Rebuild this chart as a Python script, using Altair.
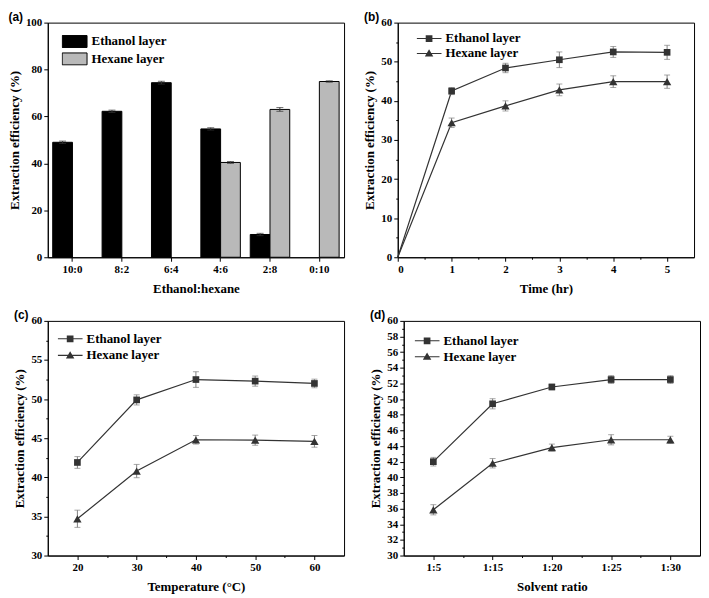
import json
import altair as alt
import pandas as pd

SERIF = "Liberation Serif"
SANS = "Liberation Sans"
SERIES = ["Ethanol layer", "Hexane layer"]

# (a) ethanol:hexane ratio
ratio_labels = ["10:0", "8:2", "6:4", "4:6", "2:8", "0:10"]
a_ethanol = [49.0, 62.2, 74.4, 54.7, 9.7, 0.0]
a_ethanol_err = [0.5, 0.5, 0.6, 0.5, 0.5, 0.0]
a_hexane = [0.0, 0.0, 0.0, 40.4, 63.0, 74.9]
a_hexane_err = [0.0, 0.0, 0.0, 0.4, 0.8, 0.3]

# (b) time
time_hr = [0, 1, 2, 3, 4, 5]
b_ethanol = [0.0, 42.5, 48.4, 50.5, 52.5, 52.4]
b_ethanol_err = [0.0, 0.9, 1.2, 2.0, 1.4, 1.8]
b_hexane = [0.0, 34.4, 38.7, 42.8, 44.9, 44.9]
b_hexane_err = [0.0, 1.2, 1.3, 1.5, 1.5, 1.7]

# (c) temperature
temperature = [20, 30, 40, 50, 60]
c_ethanol = [41.9, 49.9, 52.5, 52.3, 52.0]
c_ethanol_err = [0.75, 0.65, 1.0, 0.65, 0.55]
c_hexane = [34.7, 40.8, 44.8, 44.75, 44.6]
c_hexane_err = [1.1, 0.85, 0.55, 0.65, 0.75]

# (d) solvent ratio
solvent_ratio = ["1:5", "1:15", "1:20", "1:25", "1:30"]
d_ethanol = [42.0, 49.4, 51.55, 52.5, 52.5]
d_ethanol_err = [0.55, 0.65, 0.35, 0.5, 0.5]
d_hexane = [35.85, 41.8, 43.8, 44.8, 44.8]
d_hexane_err = [0.65, 0.6, 0.45, 0.65, 0.45]

W, H = 298, 236
LINE_COLOR = "#333333"
ERR_COLOR = "#808080"
YTITLE = "Extraction efficiency (%)"

SQ_KEY = "M-1,-0.045H1V0.045H-1Z M-0.27,-0.27H0.27V0.27H-0.27Z"
TRI_KEY = "M-1,-0.045H1V0.045H-1Z M0,-0.33L0.34,0.25H-0.34Z"
BAR_KEY = "M-1,-0.48H1V0.48H-1Z"


def long_df(xs, eth, eth_err, hx, hx_err):
    rows = []
    for name, vals, errs in ((SERIES[0], eth, eth_err), (SERIES[1], hx, hx_err)):
        for x, v, e in zip(xs, vals, errs):
            rows.append({"x": x, "series": name, "value": v,
                         "lo": v - e, "hi": v + e, "err": e})
    return pd.DataFrame(rows)


def panel_title(text):
    return alt.TitleParams(text=text, anchor="start", frame="bounds", font=SANS,
                           fontSize=12, fontWeight="bold", color="black",
                           offset=0, dy=7)


def num_axis(title, values, major, labels=None):
    is_major = f"(abs(datum.value % {major}) < 1e-6)"
    if labels is None:
        lab = f"{is_major} ? '' + datum.value : ''"
    else:
        lab = f"{is_major} ? {json.dumps(labels)}[round(datum.value) - 1] : ''"
    return alt.Axis(title=title, values=values, labelExpr=lab, labelOverlap=False,
                    tickSize={"condition": {"test": is_major, "value": 4}, "value": 2})


def line_legend(lx, ly, row_pad):
    return alt.Legend(title=None, orient="none", legendX=lx, legendY=ly,
                      clipHeight=14, rowPadding=row_pad, symbolSize=625,
                      labelOffset=4, padding=0, symbolStrokeWidth=0,
                      symbolFillColor=LINE_COLOR)


def line_panel(df, label, x_scale, x_axis, y_scale, y_axis, leg):
    base = alt.Chart(df)
    X = alt.X("x:Q", scale=x_scale, axis=x_axis)

    def Yf(f):
        return alt.Y(f"{f}:Q", scale=y_scale, axis=y_axis)

    eb = base.transform_filter("datum.err > 0")
    lines = base.mark_line(color=LINE_COLOR, strokeWidth=1.2).encode(
        x=X, y=Yf("value"), detail="series:N")
    stems = eb.mark_rule(color=ERR_COLOR, strokeWidth=1).encode(
        x=X, y=Yf("lo"), y2="hi:Q")
    caps_lo = eb.mark_tick(orient="horizontal", size=6, thickness=1,
                           color=ERR_COLOR).encode(x=X, y=Yf("lo"))
    caps_hi = eb.mark_tick(orient="horizontal", size=6, thickness=1,
                           color=ERR_COLOR).encode(x=X, y=Yf("hi"))
    pts = base.transform_filter("datum.value > 0").mark_point(
        filled=True, opacity=1, color=LINE_COLOR).encode(
        x=X, y=Yf("value"),
        shape=alt.Shape("series:N", scale=alt.Scale(domain=SERIES, range=["square", "triangle-up"]),
                        legend=None),
        size=alt.Size("series:N", scale=alt.Scale(domain=SERIES, range=[45, 70]), legend=None))
    key = base.transform_filter("false").mark_point(
        filled=True, opacity=1, color=LINE_COLOR).encode(
        x=X, y=Yf("value"),
        shape=alt.Shape("series:N", scale=alt.Scale(domain=SERIES, range=[SQ_KEY, TRI_KEY]),
                        legend=leg))
    return alt.layer(lines, stems, caps_lo, caps_hi, pts, key).resolve_scale(
        shape="independent", size="independent").properties(
        width=W, height=H, title=panel_title(label))


# ---------- (a) bars ----------
a_df = long_df(ratio_labels, a_ethanol, a_ethanol_err, a_hexane, a_hexane_err)
a_base = alt.Chart(a_df).transform_filter("datum.value > 0")
xa_scale = alt.Scale(domain=ratio_labels, paddingInner=0.2, paddingOuter=0.1)
ya_scale = alt.Scale(domain=[0, 100])
xa_axis = alt.Axis(title="Ethanol:hexane", labelAngle=0, tickSize=4)
ya_axis = alt.Axis(title=YTITLE, values=[0, 20, 40, 60, 80, 100], tickSize=4)
XA = alt.X("x:N", sort=ratio_labels, scale=xa_scale, axis=xa_axis)
XO = alt.XOffset("series:N", scale=alt.Scale(domain=SERIES, paddingInner=0, paddingOuter=0))


def YA(f):
    return alt.Y(f"{f}:Q", scale=ya_scale, axis=ya_axis)


bars = a_base.mark_bar(stroke="black", strokeWidth=1).encode(
    x=XA, xOffset=XO, y=YA("value"),
    fill=alt.Fill("series:N", scale=alt.Scale(domain=SERIES, range=["#000000", "#b9b9b9"]),
                  legend=alt.Legend(title=None, orient="none", legendX=14, legendY=12,
                                    clipHeight=14, rowPadding=3.5, symbolSize=625,
                                    symbolType=BAR_KEY, symbolStrokeColor="black",
                                    symbolStrokeWidth=1, labelOffset=4, padding=0)))
a_eb = a_base.transform_filter("datum.err > 0")
a_stems = a_eb.mark_rule(color="#333333", strokeWidth=1).encode(
    x=XA, xOffset=XO, y=YA("lo"), y2="hi:Q")
a_caps_lo = a_eb.mark_tick(size=7, thickness=1, color="#333333").encode(
    x=XA, xOffset=XO, y=YA("lo"))
a_caps_hi = a_eb.mark_tick(size=7, thickness=1, color="#333333").encode(
    x=XA, xOffset=XO, y=YA("hi"))
panel_a = alt.layer(bars, a_stems, a_caps_lo, a_caps_hi).properties(
    width=W, height=H, title=panel_title("(a)"))

# ---------- (b) time ----------
b_df = long_df(time_hr, b_ethanol, b_ethanol_err, b_hexane, b_hexane_err)
panel_b = line_panel(
    b_df, "(b)",
    alt.Scale(domain=[0, 5.5], nice=False),
    num_axis("Time (hr)", [i * 0.5 for i in range(11)], 1),
    alt.Scale(domain=[0, 60], nice=False),
    num_axis(YTITLE, [i * 5 for i in range(13)], 10),
    line_legend(19, 9, 1))

# ---------- (c) temperature ----------
c_df = long_df(temperature, c_ethanol, c_ethanol_err, c_hexane, c_hexane_err)
panel_c = line_panel(
    c_df, "(c)",
    alt.Scale(domain=[15, 65], nice=False, zero=False),
    num_axis("Temperature (°C)", [20 + i * 5 for i in range(9)], 10),
    alt.Scale(domain=[30, 60], nice=False, zero=False),
    num_axis(YTITLE, [30 + i * 2.5 for i in range(13)], 5),
    line_legend(10, 11, 2.7))

# ---------- (d) solvent ratio ----------
d_df = long_df(list(range(1, len(solvent_ratio) + 1)), d_ethanol, d_ethanol_err,
               d_hexane, d_hexane_err)
panel_d = line_panel(
    d_df, "(d)",
    alt.Scale(domain=[0.5, 5.5], nice=False, zero=False),
    num_axis("Solvent ratio", [1 + i * 0.5 for i in range(9)], 1, labels=solvent_ratio),
    alt.Scale(domain=[30, 60], nice=False, zero=False),
    num_axis(YTITLE, [30 + i for i in range(31)], 2),
    line_legend(11, 13, 2))

chart = alt.vconcat(
    alt.hconcat(panel_a, panel_b, spacing=18),
    alt.hconcat(panel_c, panel_d, spacing=24),
    spacing=12,
).properties(padding=0).configure_axis(
    labelFont=SERIF, labelFontSize=11, labelFontWeight="bold", labelColor="black",
    titleFont=SERIF, titleFontSize=13, titleFontWeight="bold", titleColor="black",
    domainColor="black", domainWidth=1, tickColor="black", tickWidth=1,
    grid=False, labelPadding=2,
).configure_axisX(titlePadding=8).configure_axisY(titlePadding=4).configure_view(
    stroke="black", strokeWidth=1
).configure_legend(
    labelFont=SERIF, labelFontSize=13, labelFontWeight="bold", labelColor="black",
)

chart.save("out.html", embed_options={"renderer": "svg", "actions": False})
